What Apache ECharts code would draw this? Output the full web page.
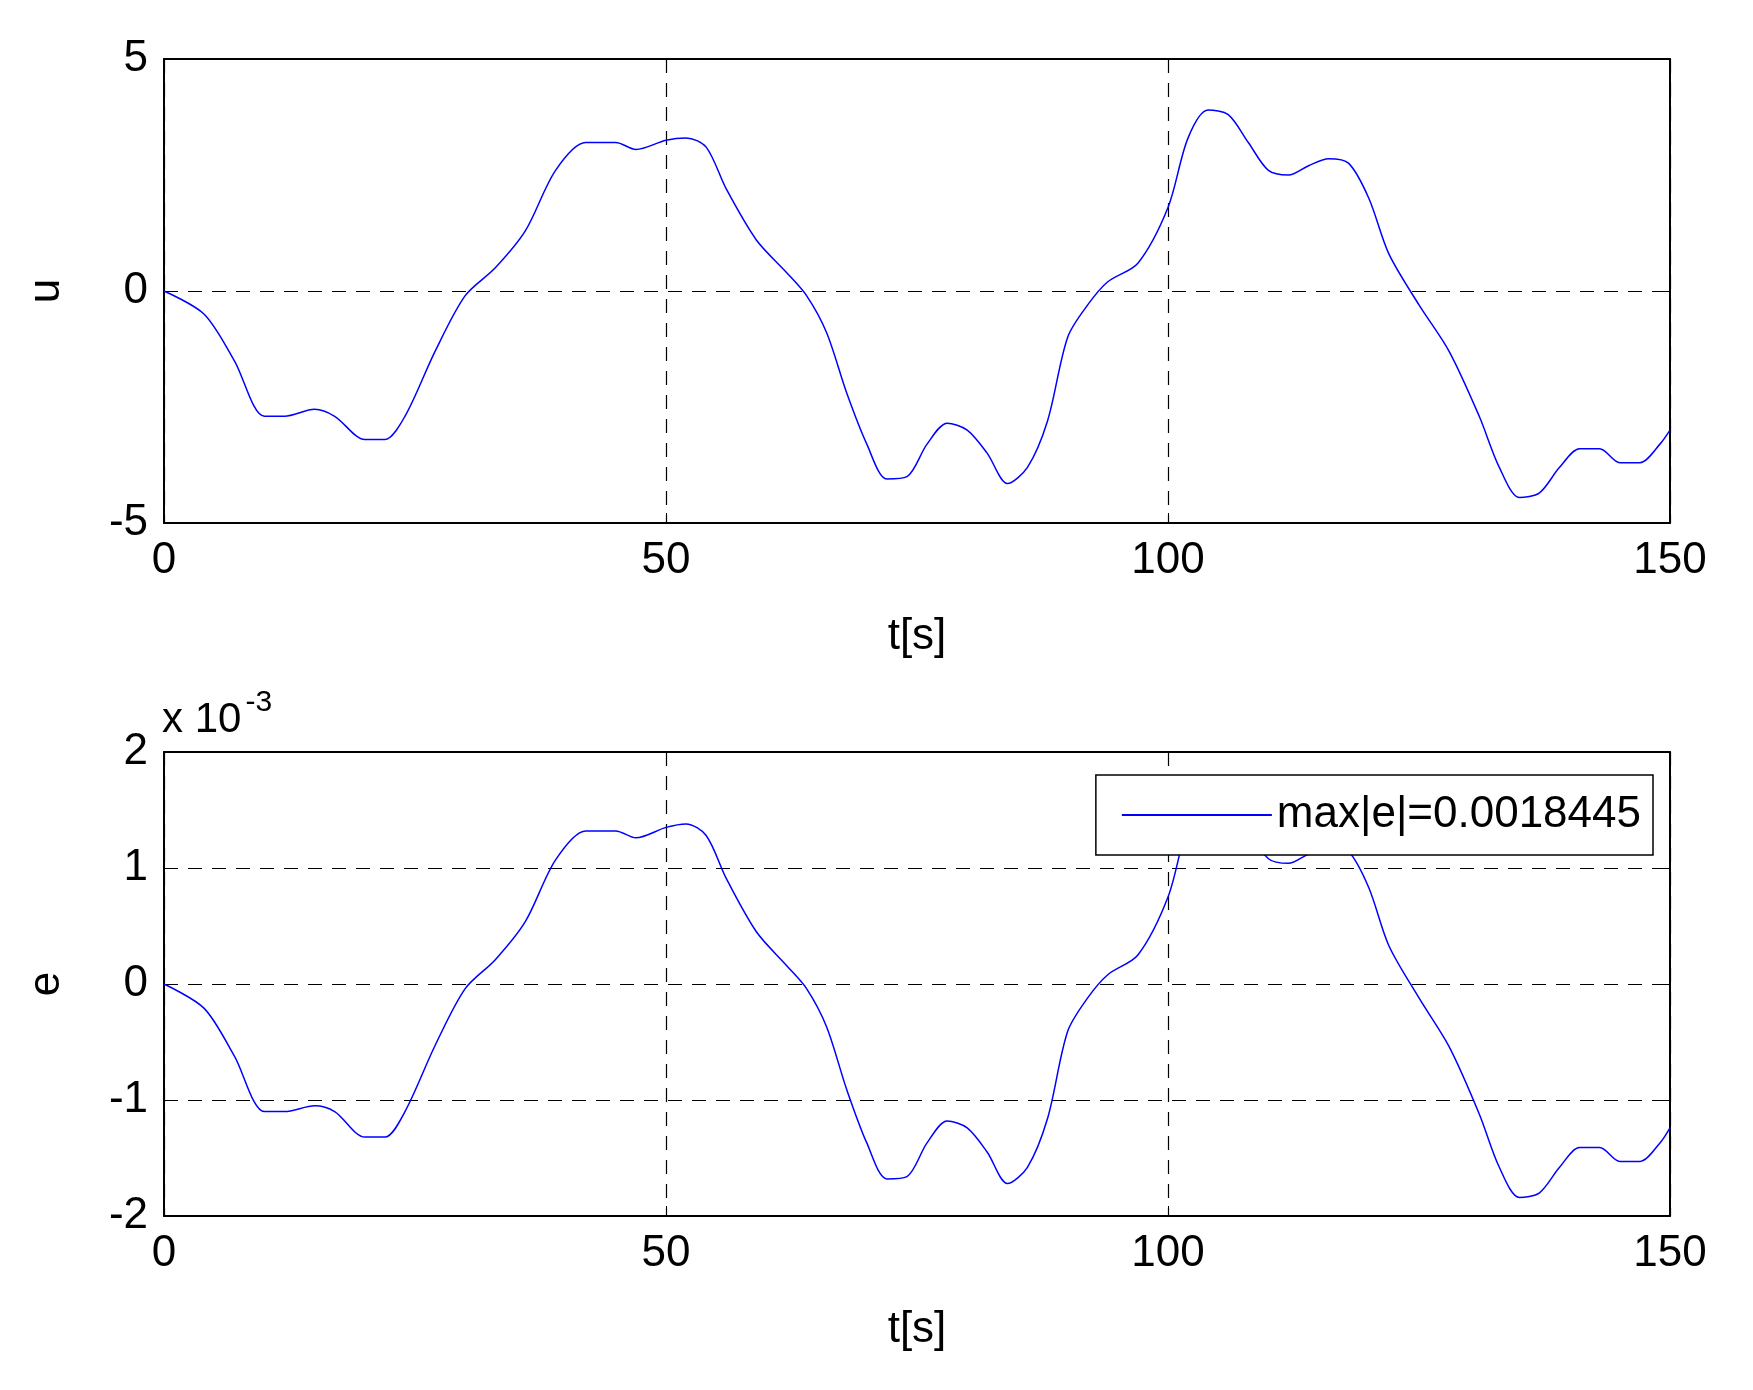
<!DOCTYPE html>
<html><head><meta charset="utf-8">
<script src="https://cdn.jsdelivr.net/npm/echarts@6/dist/echarts.min.js"></script>
<style>html,body{margin:0;padding:0;background:#fff}#c{width:1753px;height:1390px}</style>
</head><body><div id="c"></div>
<script>
const tU = [0,4,7,10,12,15,17,20,22,24,27,30,33,36,39,42,45,47,50,52,54,56,59,62,64,66,68,70,72,74,76,78,80,82,84,86,88,90,92,94,97,100,102,104,106,108,110,112,114,116,118,120,122,125,128,131,133,135,137,139,141,143,145,147,149,150];
const uVals = [0,-0.5,-1.5,-2.7,-2.7,-2.55,-2.7,-3.2,-3.2,-2.7,-1.3,-0.1,0.5,1.3,2.6,3.2,3.2,3.05,3.25,3.3,3.1,2.2,1.1,0.4,-0.1,-0.9,-2.2,-3.3,-4.05,-4.0,-3.3,-2.85,-3.0,-3.5,-4.15,-3.8,-2.8,-1.0,-0.3,0.2,0.6,1.8,3.3,3.9,3.8,3.2,2.6,2.5,2.7,2.85,2.75,2.0,0.8,-0.3,-1.3,-2.7,-3.8,-4.45,-4.35,-3.8,-3.4,-3.4,-3.7,-3.7,-3.3,-3.0];
const eVals = [0,-0.21,-0.62,-1.1,-1.1,-1.05,-1.1,-1.32,-1.32,-1.1,-0.53,-0.04,0.21,0.54,1.07,1.32,1.32,1.26,1.35,1.38,1.28,0.91,0.45,0.16,-0.04,-0.37,-0.91,-1.37,-1.68,-1.66,-1.37,-1.18,-1.24,-1.45,-1.72,-1.58,-1.16,-0.41,-0.12,0.08,0.25,0.75,1.37,1.62,1.58,1.33,1.08,1.04,1.12,1.18,1.14,0.83,0.33,-0.12,-0.54,-1.12,-1.58,-1.84,-1.80,-1.58,-1.41,-1.41,-1.53,-1.53,-1.37,-1.24];
const legendText = 'max|e|=0.0018445';

const font = 'Liberation Sans, Arial, sans-serif';
const lbl = {color:'#000', fontSize:44, fontFamily:font};
const grid = {show:true,lineStyle:{color:'#000',type:[14,10],width:1.2}};
function xa(gi){return [
 {gridIndex:gi,type:'value',min:0,max:150,interval:50,axisLine:{onZero:false,lineStyle:{color:'#000',width:2}},
  axisTick:{inside:true,length:10,lineStyle:{color:'#000'}},axisLabel:Object.assign({margin:16},lbl),
  splitLine:grid,name:'t[s]',nameLocation:'middle',nameGap:92,nameTextStyle:lbl},
 {gridIndex:gi,type:'value',position:'top',min:0,max:150,interval:50,axisLine:{onZero:false,lineStyle:{color:'#000',width:2}},
  axisTick:{inside:true,length:10,lineStyle:{color:'#000'}},axisLabel:{show:false},splitLine:{show:false}}];}
function ya(gi,min,max,iv,name){return [
 {gridIndex:gi,type:'value',min:min,max:max,interval:iv,axisLine:{onZero:false,lineStyle:{color:'#000',width:2}},
  axisTick:{inside:true,length:10,lineStyle:{color:'#000'}},axisLabel:Object.assign({margin:16},lbl),
  splitLine:grid,name:name,nameLocation:'middle',nameGap:95,nameTextStyle:lbl},
 {gridIndex:gi,type:'value',position:'right',min:min,max:max,interval:iv,axisLine:{onZero:false,lineStyle:{color:'#000',width:2}},
  axisTick:{inside:true,length:10,lineStyle:{color:'#000'}},axisLabel:{show:false},splitLine:{show:false}}];}
const chart = echarts.init(document.getElementById('c'));
chart.setOption({
 backgroundColor:'#fff', animation:false,
 grid:[{left:164,width:1506,top:59,height:464},{left:164,width:1506,top:752,height:464}],
 xAxis:[...xa(0),...xa(1)],
 yAxis:[...ya(0,-5,5,5,'u'),...ya(1,-2,2,1,'e')],
 legend:{show:true,data:[legendText],right:100,top:775,orient:'vertical',backgroundColor:'#fff',
   borderColor:'#000',borderWidth:1.5,borderRadius:0,padding:[18,12,18,26],itemWidth:150,itemHeight:2,itemGap:10,
   icon:'rect',textStyle:lbl},
 series:[
  {type:'line',xAxisIndex:0,yAxisIndex:0,data:tU.map((t,i)=>[t,uVals[i]]),symbol:'none',smooth:0.3,lineStyle:{color:'#0000ff',width:1.5},color:'#0000ff'},
  {name:legendText,type:'line',xAxisIndex:2,yAxisIndex:2,data:tU.map((t,i)=>[t,eVals[i]]),symbol:'none',smooth:0.3,lineStyle:{color:'#0000ff',width:1.5},color:'#0000ff',z:1}
 ],
 graphic:[{type:'text',left:162,top:688,style:{text:'x 10{s|-3}',fill:'#000',font:'42px '+font,
   rich:{s:{fontSize:30,fontFamily:font,verticalAlign:'top',padding:[0,0,34,4]}}}}]
});
</script></body></html>
